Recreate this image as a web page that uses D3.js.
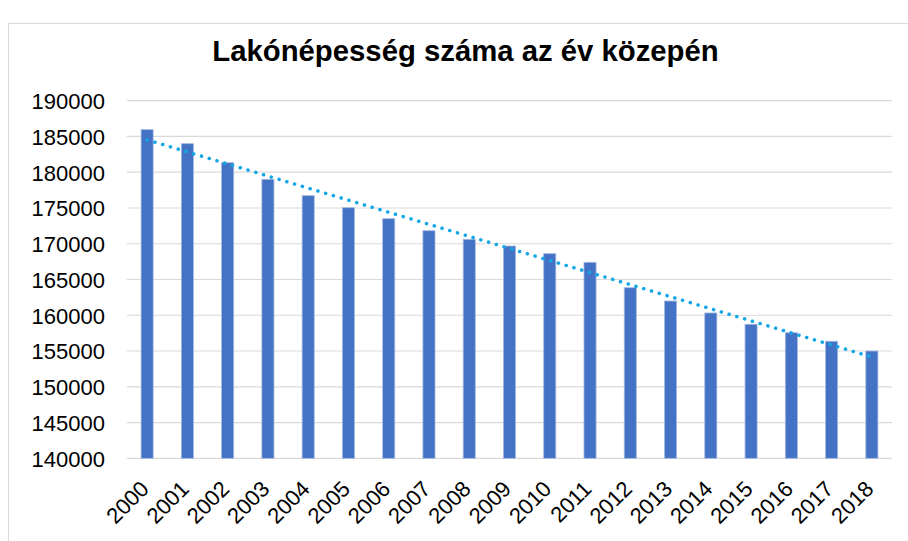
<!DOCTYPE html>
<html>
<head>
<meta charset="utf-8">
<script src="https://cdn.jsdelivr.net/npm/d3@7"></script>
<style>
  html, body { margin: 0; padding: 0; background: #fff; }
  svg { display: block; font-family: "Liberation Sans", Arial, sans-serif; }
</style>
</head>
<body>
<svg id="chart" width="908" height="541"></svg>
<script>
const title = "Lakónépesség száma az év közepén";
const years = ["2000","2001","2002","2003","2004","2005","2006","2007","2008","2009",
               "2010","2011","2012","2013","2014","2015","2016","2017","2018"];
const population = [185950, 183990, 181330, 179010, 176720, 175040, 173500, 171820, 170620, 169680,
                    168610, 167400, 163850, 161990, 160320, 158740, 157560, 156360, 155000];
const yTicks = [140000, 145000, 150000, 155000, 160000, 165000, 170000, 175000, 180000, 185000, 190000];

const svg = d3.select("#chart");
const W = 908, H = 541;
const m = { left: 127, right: 16, top: 100.7, bottom: 82.7 };
const plotW = W - m.left - m.right;
const plotH = H - m.top - m.bottom;

// chart border
svg.append("rect").attr("x", 8.5).attr("y", 23.5).attr("width", 1000).attr("height", 1000)
  .attr("fill", "#fff").attr("stroke", "#D9D9D9").attr("stroke-width", 1);

svg.append("text").attr("x", 465.5).attr("y", 61).attr("text-anchor", "middle")
  .attr("font-size", 29.3).attr("font-weight", "bold").attr("fill", "#000").text(title);

const x = d3.scaleBand().domain(years).range([m.left, m.left + plotW]).paddingInner(0.7).paddingOuter(0.35);
const y = d3.scaleLinear().domain([140000, 190000]).range([m.top + plotH, m.top]);

// gridlines
svg.append("g").selectAll("line").data(yTicks).join("line")
  .attr("x1", m.left).attr("x2", m.left + plotW)
  .attr("y1", d => y(d)).attr("y2", d => y(d))
  .attr("stroke", "#D9D9D9").attr("stroke-width", 1.2);

// y axis labels
const yAxis = d3.axisLeft(y).tickValues(yTicks).tickFormat(d3.format("d")).tickSize(0).tickPadding(0);
const gy = svg.append("g").attr("transform", `translate(${m.left - 22},0)`).call(yAxis);
gy.select(".domain").remove();
gy.selectAll("text").attr("font-size", 22).attr("fill", "#000")
  .attr("font-family", "'Liberation Sans', Arial, sans-serif").attr("dy", "0.36em");

// bars
svg.append("g").selectAll("rect").data(years).join("rect")
  .attr("x", d => x(d)).attr("width", x.bandwidth())
  .attr("y", (d, i) => y(population[i]))
  .attr("height", (d, i) => y(140000) - y(population[i]))
  .attr("fill", "#4472C4").attr("stroke", "#A3B8E2").attr("stroke-width", 0.8);

// x axis labels
const xAxis = d3.axisBottom(x).tickSize(0).tickPadding(0);
const gx = svg.append("g").attr("transform", `translate(0,${m.top + plotH})`).call(xAxis);
gx.select(".domain").remove();
gx.selectAll("text")
  .attr("font-size", 22).attr("fill", "#000")
  .attr("font-family", "'Liberation Sans', Arial, sans-serif")
  .attr("text-anchor", "end").attr("dy", null)
  .attr("transform", "translate(3,32) rotate(-45)");

// linear trendline (least squares) from the data
const n = population.length;
const idx = d3.range(n);
const mx = d3.mean(idx), my = d3.mean(population);
const slope = d3.sum(idx, i => (i - mx) * (population[i] - my)) / d3.sum(idx, i => (i - mx) * (i - mx));
const icpt = my - slope * mx;
const ends = [0, n - 1];
const line = d3.line()
  .x(t => x(years[t]) + x.bandwidth() / 2)
  .y(t => y(icpt + slope * t));
svg.append("path").datum(ends).attr("d", line)
  .attr("fill", "none").attr("stroke", "#13A6E6").attr("stroke-width", 3.5)
  .attr("stroke-linecap", "round").attr("stroke-dasharray", "0.1 8");
</script>
</body>
</html>
